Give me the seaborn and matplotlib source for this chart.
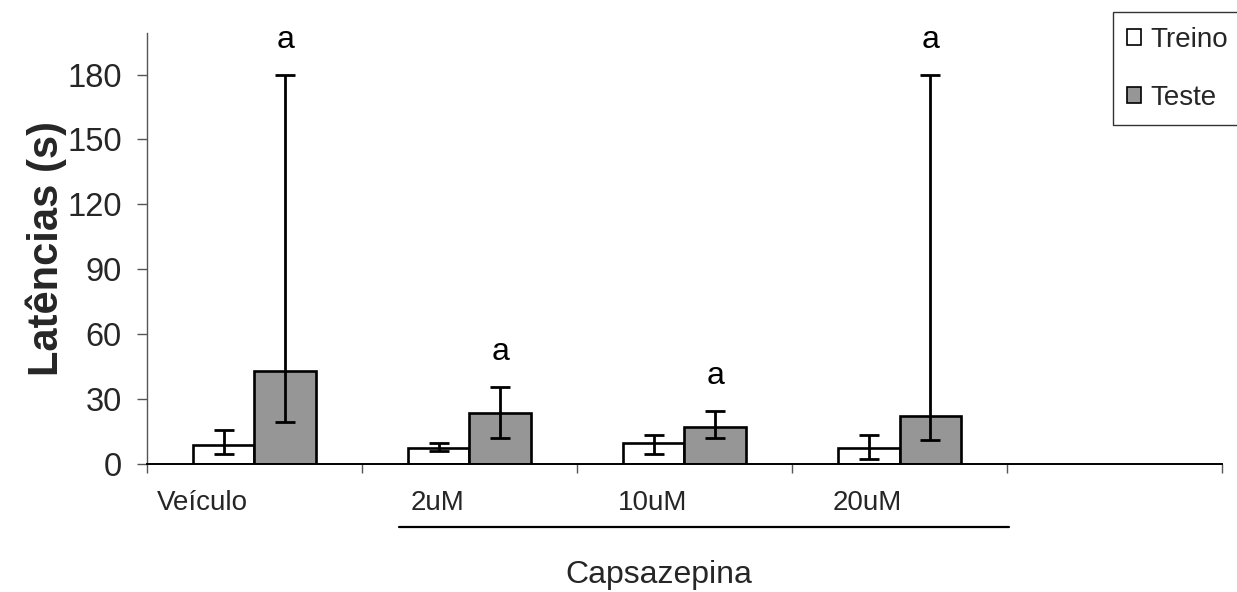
import matplotlib
matplotlib.use("Agg")
import matplotlib.pyplot as plt
import matplotlib.transforms as mtransforms
from matplotlib.patches import Patch
from matplotlib.lines import Line2D
import numpy as np
import pandas as pd
import seaborn as sns

# ---- data ----
groups = ["Veículo", "2uM", "10uM", "20uM"]
series = ["Treino", "Teste"]
treino = [8.5, 7.4, 9.6, 7.3]
treino_lo = [4.5, 5.8, 4.4, 2.3]
treino_hi = [15.6, 9.6, 13.2, 13.0]
teste = [42.7, 23.3, 16.8, 21.9]
teste_lo = [19.4, 12.0, 12.0, 11.0]
teste_hi = [180.0, 35.4, 24.4, 180.0]
signif = ["a", "a", "a", "a"]
y_ticks = [0, 30, 60, 90, 120, 150, 180]
group_label = "Capsazepina"
y_label = "Latências (s)"

sns.set_theme(style="white")
plt.rcParams["font.family"] = ["Liberation Sans", "DejaVu Sans"]

df = pd.DataFrame({
    "grupo": groups * 2,
    "serie": [series[0]] * len(groups) + [series[1]] * len(groups),
    "valor": treino + teste,
})

fig = plt.figure(figsize=(12.37, 5.92), dpi=100)
ax = fig.add_axes([0.1188, 0.217, 0.8691, 0.727])

palette = {"Treino": "#ffffff", "Teste": "#969696"}
sns.barplot(data=df, x="grupo", y="valor", hue="serie", order=groups,
            hue_order=series, palette=palette, width=0.57, errorbar=None,
            edgecolor="black", linewidth=1.9, legend=False, ax=ax, saturation=1)

bar_containers = list(ax.containers)

# error bars
los = [treino_lo, teste_lo]
his = [treino_hi, teste_hi]
vals = [treino, teste]
for k, cont in enumerate(bar_containers):
    xs = [p.get_x() + p.get_width() / 2 for p in cont.patches]
    v = np.array(vals[k])
    lo = v - np.array(los[k])
    hi = np.array(his[k]) - v
    ax.errorbar(xs, v, yerr=[lo, hi], fmt="none", ecolor="black",
                elinewidth=2.0, capsize=7.5, capthick=2.0, zorder=5)

# significance letters above Teste bars
for i, p in enumerate(bar_containers[1].patches):
    xc = p.get_x() + p.get_width() / 2
    ax.text(xc, teste_hi[i] + 16, signif[i], ha="center", va="center",
            fontsize=23, color="black")

ax.set_xlim(-0.5, 4.5)
ax.set_ylim(0, 199.2)
ax.set_yticks(y_ticks)
ax.set_yticklabels([str(t) for t in y_ticks], fontsize=23.5)
ax.set_xticks(np.arange(-0.5, 4.6, 1.0))
ax.set_xticklabels([])
ax.tick_params(axis="y", direction="out", length=7, width=1.0, pad=11,
               color="#555555", left=True)
ax.tick_params(axis="x", direction="out", length=6.5, width=1.0,
               color="#555555", bottom=True)
ax.set_xlabel("")
ax.set_ylabel(y_label, fontsize=30, fontweight="bold", labelpad=0)

for s in ["top", "right"]:
    ax.spines[s].set_visible(False)
ax.spines["left"].set_color("#555555")
ax.spines["left"].set_linewidth(1.0)
ax.spines["bottom"].set_color("black")
ax.spines["bottom"].set_linewidth(1.4)

# category labels
trans = mtransforms.blended_transform_factory(ax.transData, ax.transAxes)
label_offsets = [-0.24, -0.15, -0.15, -0.15]
for i, g in enumerate(groups):
    ax.text(i + label_offsets[i], -0.092, g, transform=trans, ha="center",
            va="center", fontsize=20)

# group line and label
ax.add_line(Line2D([0.672, 3.509], [-0.1475, -0.1475], transform=trans,
                   color="black", linewidth=1.6, clip_on=False))
ax.text(1.88, -0.258, group_label, transform=trans, ha="center",
        va="center", fontsize=23)

# legend
handles = [Patch(facecolor=palette[s], edgecolor="black", linewidth=1.2, label=s)
           for s in series]
leg = fig.legend(handles=handles, loc="upper left",
                 bbox_to_anchor=(0.8995, 0.979), fontsize=20,
                 frameon=True, fancybox=False, handlelength=0.5,
                 handleheight=0.5, handletextpad=0.35, labelspacing=1.15,
                 borderpad=0.52, borderaxespad=0)
leg.get_frame().set_edgecolor("black")
leg.get_frame().set_linewidth(1.0)

fig.savefig("out.png", dpi=100)
